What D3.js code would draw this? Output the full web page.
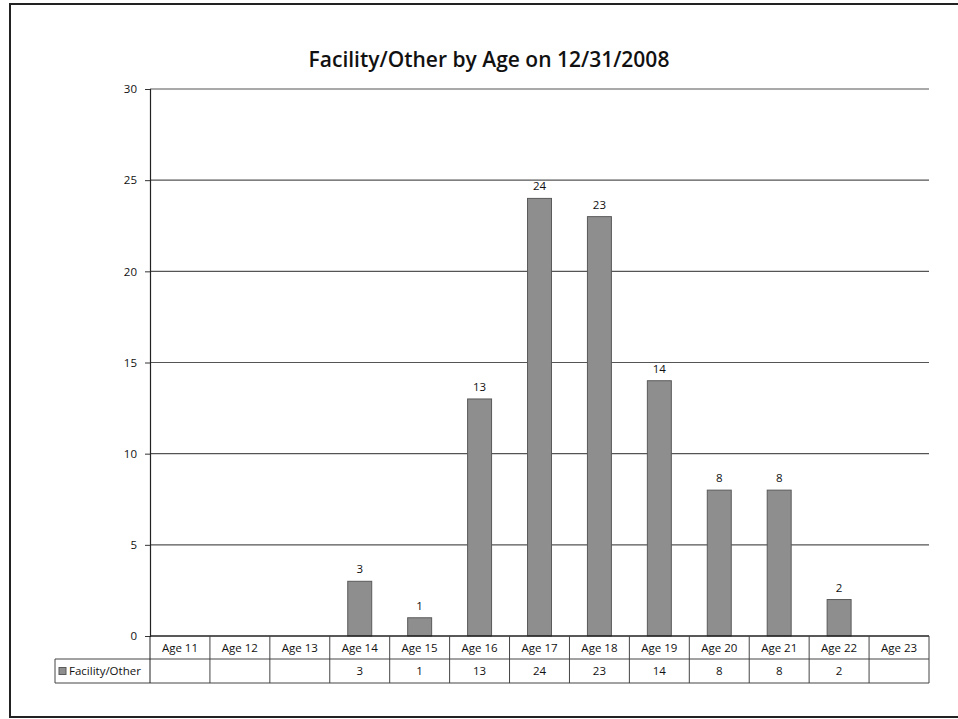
<!DOCTYPE html>
<html>
<head>
<meta charset="utf-8">
<script src="https://cdn.jsdelivr.net/npm/d3@7"></script>
<style>
  body { margin: 0; background: #fff; }
  text { font-family: "Open Sans", "Noto Sans", sans-serif; fill: #111; }
</style>
</head>
<body>
<svg id="chart" width="958" height="719"></svg>
<script>
// Data
const ages = ["Age 11", "Age 12", "Age 13", "Age 14", "Age 15", "Age 16", "Age 17",
              "Age 18", "Age 19", "Age 20", "Age 21", "Age 22", "Age 23"];
const counts = [null, null, null, 3, 1, 13, 24, 23, 14, 8, 8, 2, null];
const yTicks = [0, 5, 10, 15, 20, 25, 30];
const seriesName = "Facility/Other";
const title = "Facility/Other by Age on 12/31/2008";

let svg = d3.select("#chart");
let smallFont = 11.5;

// Chart frame (right edge runs past the page)
svg.append("path")
    .attr("d", "M 970 4 L 10 4 L 10 717 L 970 717")
    .attr("fill", "none")
    .attr("stroke", "#222")
    .attr("stroke-width", 2);

let plot = { left: 150, right: 929, top: 89, bottom: 636 };

let x = d3.scaleBand()
    .domain(ages)
    .range([plot.left, plot.right])
    .paddingInner(0.6)
    .paddingOuter(0.3);

let col = d3.scaleBand()
    .domain(ages)
    .range([plot.left, plot.right]);

let y = d3.scaleLinear()
    .domain([0, 30])
    .range([plot.bottom, plot.top]);

// Title
svg.append("text")
    .attr("x", 489)
    .attr("y", 67)
    .attr("text-anchor", "middle")
    .attr("font-size", 21)
    .attr("font-weight", 600)
    .text(title);

// Gridlines
svg.append("g")
    .selectAll("line")
    .data(yTicks.filter(d => d > 0))
    .join("line")
    .attr("x1", plot.left)
    .attr("x2", plot.right)
    .attr("y1", d => y(d))
    .attr("y2", d => y(d))
    .attr("stroke", "#555")
    .attr("stroke-width", 1.2);

// Y axis
let yAxis = svg.append("g")
    .attr("transform", "translate(" + plot.left + ",0)")
    .call(d3.axisLeft(y).tickValues(yTicks).tickSize(5).tickPadding(8));
yAxis.select(".domain").attr("stroke", "#222").attr("stroke-width", 1.2);
yAxis.selectAll(".tick line").attr("stroke", "#333");
yAxis.selectAll("text")
    .attr("font-size", smallFont)
    .attr("fill", "#111")
    .style("font-family", "'Open Sans', sans-serif");

// Bars
let barData = ages.map((a, i) => ({ age: a, value: counts[i] })).filter(d => d.value != null);

svg.append("g")
    .selectAll("rect")
    .data(barData)
    .join("rect")
    .attr("x", d => x(d.age))
    .attr("width", x.bandwidth())
    .attr("y", d => y(d.value))
    .attr("height", d => y(0) - y(d.value))
    .attr("fill", "#8e8e8e")
    .attr("stroke", "#5a5a5a")
    .attr("stroke-width", 1);

// Data labels
svg.append("g")
    .selectAll("text")
    .data(barData)
    .join("text")
    .attr("x", d => x(d.age) + x.bandwidth() / 2)
    .attr("y", d => y(d.value) - 8)
    .attr("text-anchor", "middle")
    .attr("font-size", smallFont)
    .text(d => d.value);

// Data table
let table = { row1Top: plot.bottom, row1Bottom: 659, row2Bottom: 683, legendLeft: 55 };

let grid = svg.append("g")
    .attr("stroke", "#444")
    .attr("stroke-width", 1)
    .attr("fill", "none");

grid.append("line")
    .attr("x1", plot.left).attr("x2", plot.right)
    .attr("y1", table.row1Top).attr("y2", table.row1Top)
    .attr("stroke", "#222").attr("stroke-width", 1.3);
grid.append("line")
    .attr("x1", table.legendLeft).attr("x2", plot.right)
    .attr("y1", table.row1Bottom).attr("y2", table.row1Bottom);
grid.append("line")
    .attr("x1", table.legendLeft).attr("x2", plot.right)
    .attr("y1", table.row2Bottom).attr("y2", table.row2Bottom);
grid.append("line")
    .attr("x1", table.legendLeft).attr("x2", table.legendLeft)
    .attr("y1", table.row1Bottom).attr("y2", table.row2Bottom);
grid.append("line")
    .attr("x1", plot.left).attr("x2", plot.left)
    .attr("y1", table.row1Top).attr("y2", table.row2Bottom)
    .attr("stroke", "#222");
grid.selectAll("line.col")
    .data(ages)
    .join("line")
    .attr("class", "col")
    .attr("x1", d => col(d) + col.bandwidth())
    .attr("x2", d => col(d) + col.bandwidth())
    .attr("y1", table.row1Top)
    .attr("y2", table.row2Bottom);

// Category labels
svg.append("g")
    .selectAll("text")
    .data(ages)
    .join("text")
    .attr("x", d => col(d) + col.bandwidth() / 2)
    .attr("y", (table.row1Top + table.row1Bottom) / 2 + 4)
    .attr("text-anchor", "middle")
    .attr("font-size", smallFont)
    .text(d => d);

// Values row
svg.append("g")
    .selectAll("text")
    .data(barData)
    .join("text")
    .attr("x", d => col(d.age) + col.bandwidth() / 2)
    .attr("y", (table.row1Bottom + table.row2Bottom) / 2 + 4)
    .attr("text-anchor", "middle")
    .attr("font-size", smallFont)
    .text(d => d.value);

// Legend key in the table
let rowMid = (table.row1Bottom + table.row2Bottom) / 2;
svg.append("rect")
    .attr("x", table.legendLeft + 4)
    .attr("y", rowMid - 3.5)
    .attr("width", 7)
    .attr("height", 7)
    .attr("fill", "#8e8e8e")
    .attr("stroke", "#5a5a5a");
svg.append("text")
    .attr("x", table.legendLeft + 14)
    .attr("y", rowMid + 4)
    .attr("font-size", smallFont)
    .text(seriesName);
</script>
</body>
</html>
